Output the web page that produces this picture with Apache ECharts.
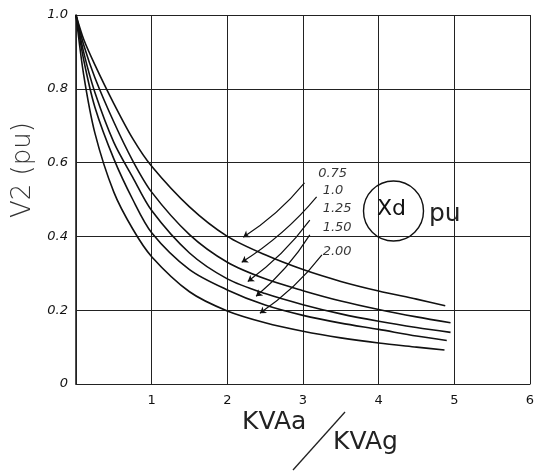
<!DOCTYPE html>
<html>
<head>
<meta charset="utf-8">
<script src="https://cdn.jsdelivr.net/npm/echarts@6/dist/echarts.min.js"></script>
<style>
  html, body { margin: 0; padding: 0; background: #fff; }
  #chart { width: 546px; height: 473px; }
</style>
</head>
<body>
<div id="chart"></div>
<script>
// KVA ratio sample positions along each curve
const kvaRatio = [0, 0.1, 0.25, 0.5, 0.75, 1, 1.5, 2, 2.5, 3, 3.5, 4, 4.5];

// Receiving-end voltage V2 (pu) for each reactance Xd (pu)
const xdNames = ['0.75', '1.0', '1.25', '1.50', '2.00'];
const v2_075 = [1, 0.935, 0.865, 0.76, 0.665, 0.59, 0.48, 0.40, 0.35, 0.31, 0.278, 0.252, 0.23];
const v2_100 = [1, 0.92, 0.83, 0.71, 0.605, 0.52, 0.405, 0.33, 0.285, 0.253, 0.225, 0.202, 0.182];
const v2_125 = [1, 0.90, 0.79, 0.655, 0.56, 0.47, 0.355, 0.285, 0.245, 0.215, 0.19, 0.17, 0.153];
const v2_150 = [1, 0.88, 0.75, 0.61, 0.50, 0.41, 0.31, 0.255, 0.214, 0.186, 0.165, 0.148, 0.13];
const v2_200 = [1, 0.84, 0.68, 0.52, 0.42, 0.345, 0.25, 0.198, 0.166, 0.143, 0.125, 0.111, 0.10];
// Last point of each curve (KVA ratio, V2)
const curveEnds = [[4.88, 0.212], [4.95, 0.166], [4.95, 0.14], [4.9, 0.118], [4.87, 0.092]];

// Leader arrows: [start, arrow tip] for each Xd label
const leaderStarts = [[3.02, 0.545], [3.18, 0.507], [3.09, 0.444], [3.09, 0.404], [3.25, 0.35]];
const leaderTips = [[2.21, 0.398], [2.19, 0.33], [2.27, 0.278], [2.38, 0.238], [2.43, 0.192]];
// Anchor of each Xd value label
const labelAnchors = [[3.2, 0.57], [3.26, 0.525], [3.26, 0.474], [3.26, 0.423], [3.26, 0.358]];

const xTicks = [0, 1, 2, 3, 4, 5, 6];
const yTicks = [0, 0.2, 0.4, 0.6, 0.8, 1.0];

const curves = [v2_075, v2_100, v2_125, v2_150, v2_200];

const chart = echarts.init(document.getElementById('chart'), null, { renderer: 'canvas' });

const lineSeries = curves.map((vals, i) => ({
  type: 'line',
  name: xdNames[i],
  data: kvaRatio.map((k, j) => [k, vals[j]]).concat([curveEnds[i]]),
  smooth: 0.3,
  showSymbol: false,
  lineStyle: { color: '#111', width: 1.6 },
  z: 3
}));

const leaderSeries = {
  type: 'lines',
  coordinateSystem: 'cartesian2d',
  data: leaderStarts.map((s, i) => ({ coords: [s, leaderTips[i]] })),
  symbol: ['none', 'arrow'],
  symbolSize: 6,
  lineStyle: { color: '#111', width: 1.2, opacity: 1, curveness: 0.08 },
  z: 4
};

const labelSeries = {
  type: 'scatter',
  data: labelAnchors.map((p, i) => ({ value: p, label: { formatter: xdNames[i] } })),
  symbolSize: 0,
  label: {
    show: true,
    position: 'right',
    distance: 0,
    fontFamily: 'DejaVu Sans',
    fontStyle: 'italic',
    fontSize: 13,
    color: '#000'
  },
  z: 5
};

chart.setOption({
  backgroundColor: '#fff',
  animation: false,
  grid: { left: 76, right: 16, top: 15, bottom: 89 },
  xAxis: {
    type: 'value',
    min: xTicks[0], max: xTicks[xTicks.length - 1], interval: 1,
    axisLine: { show: true, lineStyle: { color: '#222', width: 1.2 } },
    axisTick: { show: false },
    splitLine: { show: true, lineStyle: { color: '#222', width: 1 } },
    axisLabel: {
      margin: 10,
      formatter: v => (v === 0 ? '' : String(v)),
      fontFamily: 'DejaVu Sans', fontSize: 13, color: '#111'
    }
  },
  yAxis: {
    type: 'value',
    min: yTicks[0], max: yTicks[yTicks.length - 1], interval: 0.2,
    axisLine: { show: true, lineStyle: { color: '#222', width: 1.6 } },
    axisTick: { show: false },
    splitLine: { show: true, lineStyle: { color: '#222', width: 1 } },
    axisLabel: {
      margin: 8,
      formatter: v => (v === 0 ? '0' : v.toFixed(1)),
      fontFamily: 'DejaVu Sans', fontStyle: 'italic', fontSize: 13, color: '#111'
    }
  },
  series: lineSeries.concat([leaderSeries, labelSeries]),
  graphic: [
    {
      type: 'text', rotation: Math.PI / 2,
      style: { text: 'V2 (pu)', font: '300 26px "DejaVu Sans"', fill: '#333' },
      x: 10, y: 218
    },
    {
      type: 'circle', shape: { cx: 393.5, cy: 211, r: 30 },
      style: { fill: 'none', stroke: '#111', lineWidth: 1.4 }, z: 10
    },
    {
      type: 'text', x: 377, y: 198,
      style: { text: 'Xd', font: '22px "DejaVu Sans"', fill: '#111' }, z: 10
    },
    {
      type: 'text', x: 429, y: 202,
      style: { text: 'pu', font: '25px "DejaVu Sans"', fill: '#222' }, z: 10
    },
    {
      type: 'text', x: 242, y: 410,
      style: { text: 'KVAa', font: '25px "DejaVu Sans"', fill: '#222' }
    },
    {
      type: 'line', shape: { x1: 293, y1: 470, x2: 345, y2: 412 },
      style: { stroke: '#222', lineWidth: 1.3 }
    },
    {
      type: 'text', x: 333, y: 430,
      style: { text: 'KVAg', font: '25px "DejaVu Sans"', fill: '#222' }
    }
  ]
});
</script>
</body>
</html>
